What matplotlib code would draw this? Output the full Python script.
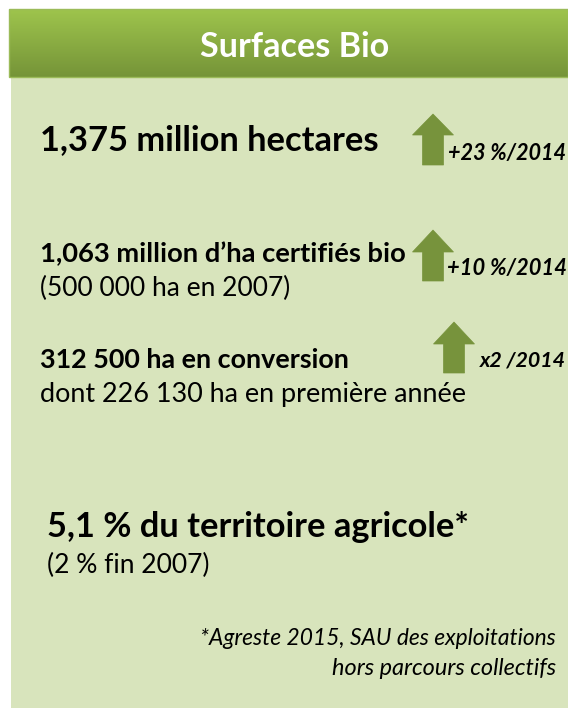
import matplotlib
matplotlib.use("Agg")
import matplotlib.pyplot as plt
import numpy as np
from matplotlib.patches import Rectangle, Polygon

# ---- content ----
title = "Surfaces Bio"
headlines = ["1,375 million hectares",
             "1,063 million d\u2019ha certifiés bio",
             "312 500 ha en conversion"]
sublines = ["", "(500 000 ha en 2007)", "dont 226 130 ha en première année"]
changes = ["+23 %/2014", "+10 %/2014", "x2 /2014"]
share_line = "5,1 % du territoire agricole*"
share_sub = "(2 % fin 2007)"
footnote = ["*Agreste 2015, SAU des exploitations", "hors parcours collectifs"]

W, H = 568, 708
FONT = "Lato"

fig = plt.figure(figsize=(W / 100, H / 100), dpi=100)
ax = fig.add_axes([0, 0, 1, 1])
ax.set_xlim(0, W)
ax.set_ylim(H, 0)
ax.axis("off")
fig.patch.set_facecolor("white")

# body
ax.add_patch(Rectangle((11, 77), W - 11, H - 77, facecolor="#d8e4bc", edgecolor="none"))
# header gradient
grad = np.linspace(0, 1, 100).reshape(-1, 1)
top = np.array([0.62, 0.77, 0.30])
bot = np.array([0.46, 0.58, 0.22])
img = top[None, None, :] * (1 - grad[..., None]) + bot[None, None, :] * grad[..., None]
ax.imshow(img, extent=(9, W, 77, 9), aspect="auto", zorder=1)
ax.add_patch(Rectangle((9, 9), W - 9, 68, facecolor="none", edgecolor="#9bbb59", lw=1, zorder=2))

fig.canvas.draw()
renderer = fig.canvas.get_renderer()


def fit_text(x, y, s, width, ha="left", **kw):
    t = ax.text(x, y, s, fontsize=10, ha=ha, va="baseline", family=FONT, **kw)
    w = t.get_window_extent(renderer).width
    t.set_fontsize(10 * width / w)
    return t


fit_text(295, 57, title, 190, ha="center", color="white", fontweight="bold", zorder=3)

# rows
head_base = [150, 262, 368]
head_w = [340, 367, 310]
sub_base = [None, 296, 402]
sub_w = [None, 250, 428]
for s, yb, w in zip(headlines, head_base, head_w):
    fit_text(40, yb, s, w, fontweight="bold", color="black")
for s, yb, w in zip(sublines, sub_base, sub_w):
    if s:
        fit_text(40, yb, s, w, color="black")

# arrows
arrows = [(433, 114, 135, 165), (433, 230, 252, 281), (454, 322, 344, 373)]
for cx, ytop, yhead, ybot in arrows:
    hw, sw = 20.5, 10.5
    pts = [(cx, ytop), (cx + hw, yhead), (cx + sw, yhead), (cx + sw, ybot),
           (cx - sw, ybot), (cx - sw, yhead), (cx - hw, yhead)]
    ax.add_patch(Polygon(pts, closed=True, facecolor="#77933c", edgecolor="#77933c", lw=0.5, zorder=3))

chg_pos = [(448, 160, 118), (447, 275, 119), (480, 367, 86)]
for s, (x, yb, w) in zip(changes, chg_pos):
    fit_text(x, yb, s, w, fontweight="bold", style="italic", color="black", zorder=4)

fit_text(47, 537, share_line, 423, fontweight="bold", color="black")
fit_text(47, 573, share_sub, 163, color="black")

fit_text(556, 645, footnote[0], 356, ha="right", style="italic", color="black")
fit_text(556, 675, footnote[1], 224, ha="right", style="italic", color="black")

fig.savefig("out.png", dpi=100)
